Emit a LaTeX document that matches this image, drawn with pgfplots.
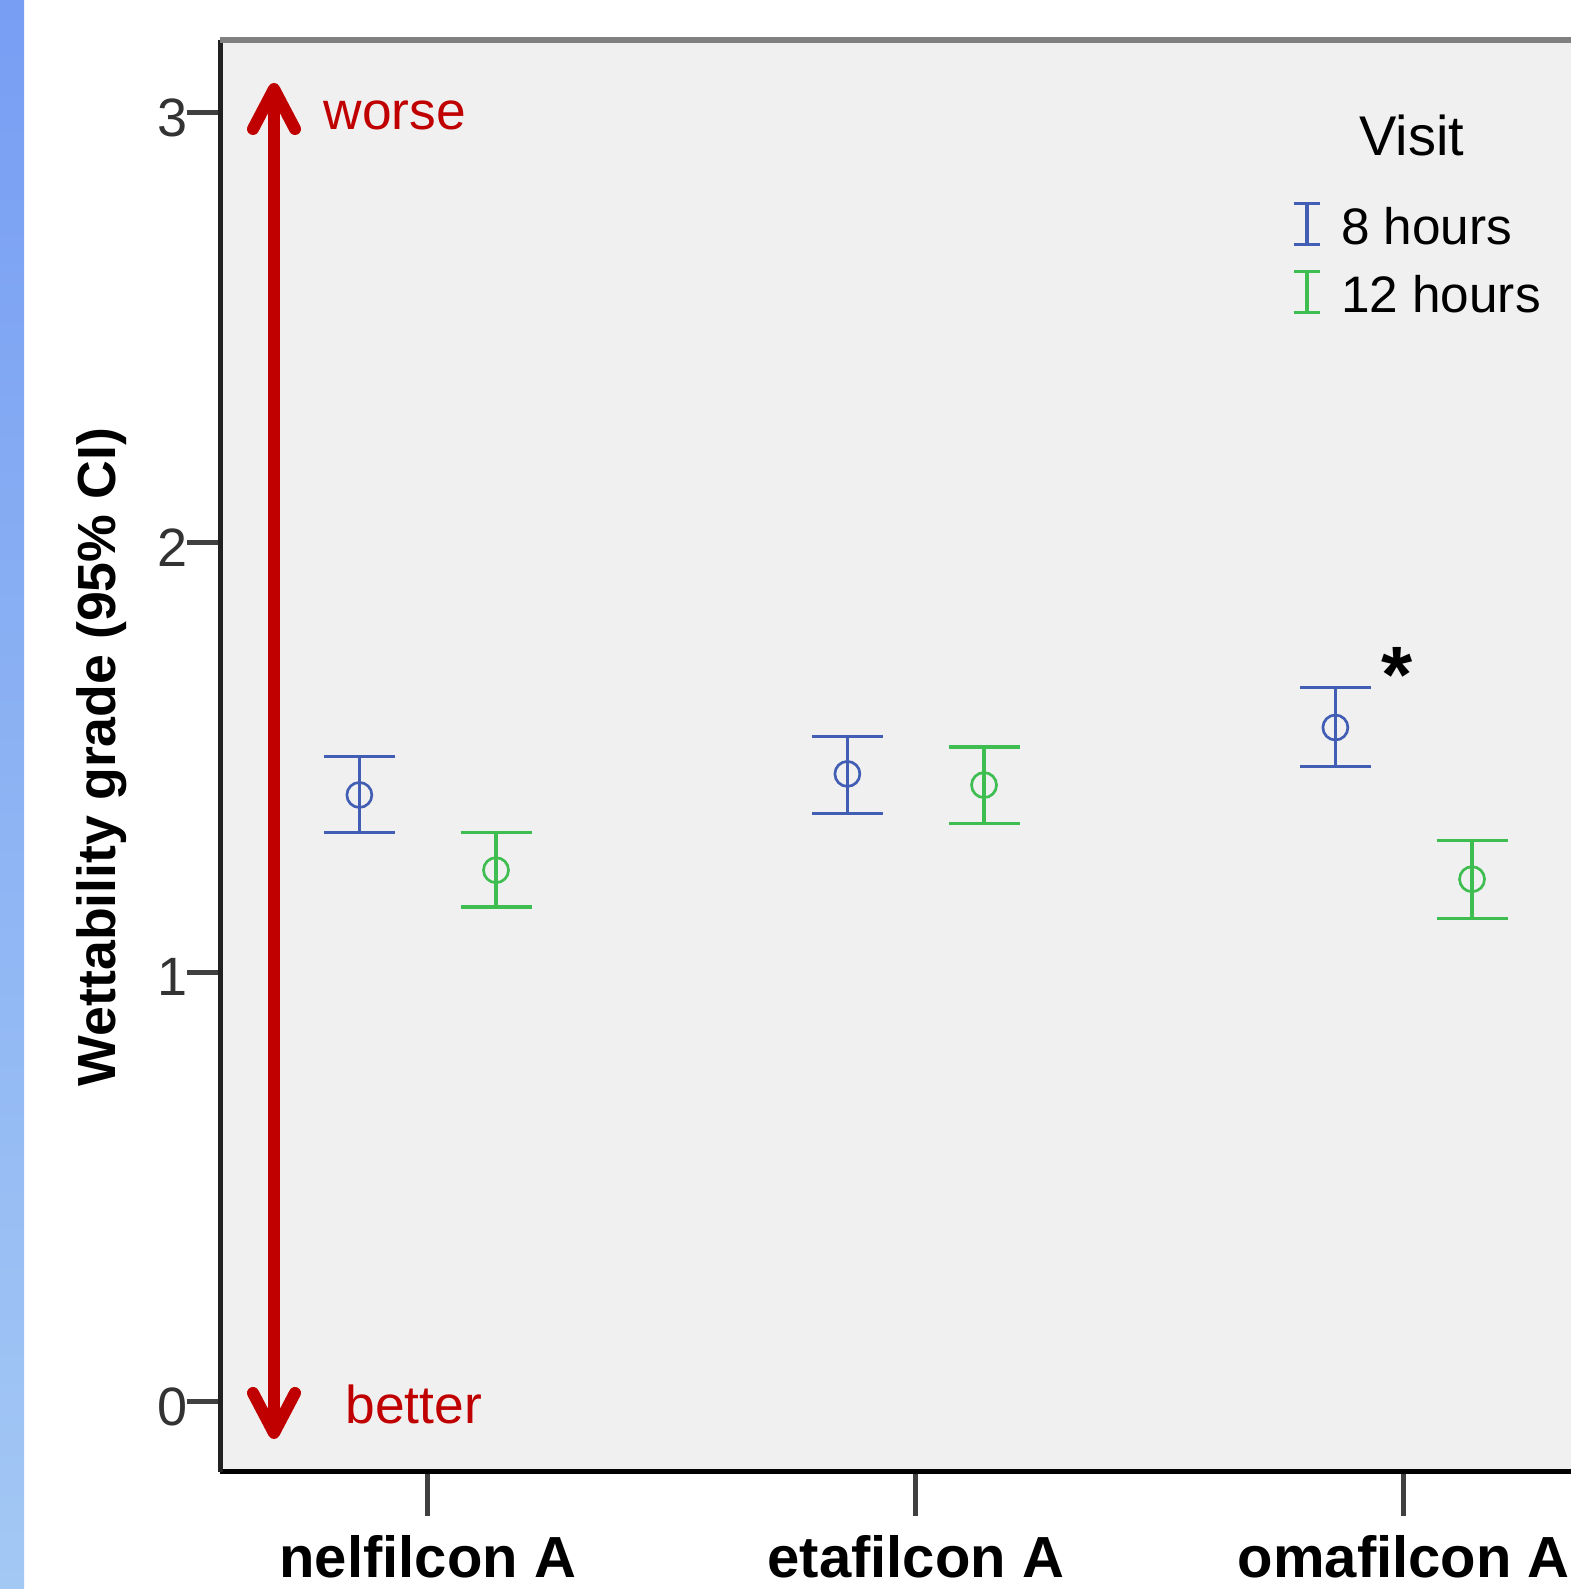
\documentclass[border=0pt]{standalone}
\usepackage{pgfplots}
\usepackage{pgfplotstable}
\pgfplotsset{compat=1.18}
\usepackage{fontspec}
\setmainfont{Liberation Sans}
\usetikzlibrary{arrows.meta}
\definecolor{c8}{RGB}{66,94,180}
\definecolor{c12}{RGB}{62,189,80}
\definecolor{bgc}{RGB}{240,240,240}
\definecolor{redc}{RGB}{192,0,0}
\definecolor{stripT}{RGB}{119,158,243}
\definecolor{stripB}{RGB}{163,200,244}

\pgfplotstableread{
x y ep em
-0.14 1.412 0.089 0.088
0.86 1.461 0.087 0.092
1.86 1.569 0.093 0.091
}\eighthours
\pgfplotstableread{
x y ep em
0.14 1.237 0.088 0.086
1.14 1.435 0.089 0.089
2.14 1.216 0.090 0.092
}\twelvehours

\begin{document}
\begin{tikzpicture}
\path[use as bounding box] (0,0) rectangle (471.3pt,476.7pt);
\begin{scope}[x=0.3pt,y=0.3pt]
\shade[top color=stripT, bottom color=stripB] (0,0) rectangle (24,1589);
\end{scope}
\begin{axis}[
  at={(66pt,35.1pt)}, anchor=south west,
  scale only axis, width=407.82pt, height=429.6pt,
  xmin=-0.4256, xmax=2.36, ymin=-0.1636, ymax=3.169,
  axis lines*=left,
  axis background/.style={fill=bgc},
  x axis line style={black, line width=1.5pt},
  y axis line style={black!87, line width=1.5pt},
  tick align=outside,
  major tick length=9.9pt,
  tick style={black!75, line width=1.5pt},
  xtick style={/pgfplots/major tick length=13.2pt},
  xtick={0,1,2},
  xticklabels={nelfilcon A, etafilcon A, omafilcon A},
  ytick={0,1,2,3},
  /pgf/number format/assume math mode=true,
  yticklabel style={font=\fontsize{16.2pt}{18pt}\selectfont, text=black!80, inner sep=0pt, anchor=east, xshift=0.3pt, yshift=-1.5pt},
  xticklabel style={font=\bfseries\fontsize{17.4pt}{20pt}\selectfont, inner sep=0pt, anchor=base, yshift=-21.6pt},
  ylabel={Wettability grade (95\% CI)},
  every axis y label/.style={at={(axis description cs:-0.0772,0.4993)}, rotate=90, anchor=base, inner sep=0pt, font=\bfseries\fontsize{16.1pt}{18pt}\selectfont},
  legend style={draw=none, fill=none, at={(0.7886,0.8869)}, anchor=north west, inner sep=0pt, outer sep=0pt, row sep=6.1pt, font=\fontsize{15.4pt}{18pt}\selectfont, nodes={inner sep=0pt}, /tikz/column 1/.style={column sep=5.7pt}, /tikz/column 2/.style={nodes={yshift=-1.3pt}}},
  legend cell align=left,
  clip=false,
]
\addplot[c8, only marks, mark=o, mark size=3.75pt, mark options={line width=0.8pt},
  legend image code/.code={\draw[c8, line width=1pt] (0pt,-6.15pt) -- (0pt,6.15pt) (-4pt,-6.15pt) -- (4pt,-6.15pt) (-4pt,6.15pt) -- (4pt,6.15pt);},
  error bars/.cd, y dir=both, y explicit,
  error bar style={line width=1pt, c8},
  error mark options={rotate=90, mark size=10.65pt, line width=1pt, c8}]
  table[x=x, y=y, y error plus=ep, y error minus=em] {\eighthours};
\addlegendentry{8 hours}
\addplot[c12, only marks, mark=o, mark size=3.75pt, mark options={line width=0.8pt},
  legend image code/.code={\draw[c12, line width=1pt] (0pt,-6.15pt) -- (0pt,6.15pt) (-4pt,-6.15pt) -- (4pt,-6.15pt) (-4pt,6.15pt) -- (4pt,6.15pt);},
  error bars/.cd, y dir=both, y explicit,
  error bar style={line width=1pt, c12},
  error mark options={rotate=90, mark size=10.65pt, line width=1pt, c12}]
  table[x=x, y=y, y error plus=ep, y error minus=em] {\twelvehours};
\addlegendentry{12 hours}
\draw[gray, line width=1.8pt] (rel axis cs:0,1) -- (rel axis cs:1,1);
\end{axis}
\begin{scope}[x=0.3pt,y=0.3pt]
\draw[redc, line width=3.6pt, {Straight Barb[round,length=12pt,width=12.6pt]}-{Straight Barb[round,length=12pt,width=12.6pt]}] (274,1506) -- (274,150);
\node[anchor=base west, inner sep=0pt, text=redc, font=\fontsize{16pt}{18pt}\selectfont] at (323,1459) {worse};
\node[anchor=base west, inner sep=0pt, text=redc, font=\fontsize{16pt}{18pt}\selectfont] at (345,165) {better};
\node[anchor=base, inner sep=0pt, font=\fontsize{16.8pt}{18pt}\selectfont] at (1412,1433) {Visit};
\node[anchor=base, inner sep=0pt, font=\bfseries\fontsize{24pt}{24pt}\selectfont] at (1397,886) {*};
\end{scope}
\end{tikzpicture}
\end{document}
